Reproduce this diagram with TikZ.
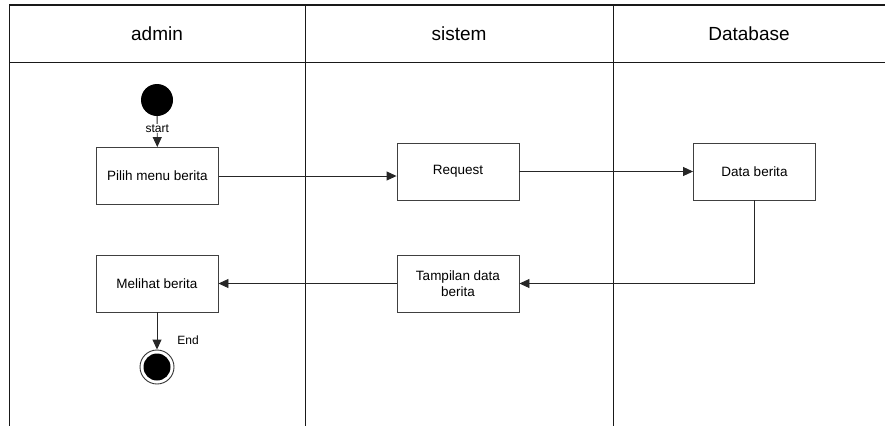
\documentclass[tikz,border=0pt]{standalone}
\usepackage{fontspec}
\setmainfont{Liberation Sans}
\usetikzlibrary{arrows.meta}
\begin{document}
\begin{tikzpicture}[x=1pt,y=-1pt,
  lane/.style={line width=1pt, draw=black!90},
  head/.style={font=\fontsize{19}{22}\selectfont},
  act/.style={draw=black!75, line width=0.9pt, minimum width=122pt, minimum height=57pt,
    font=\fontsize{13.5}{16}\selectfont, align=center, inner sep=0pt},
  flow/.style={line width=0.9pt, draw=black!85, -{Triangle[length=10pt,width=9pt]}},
  small/.style={font=\fontsize{12}{14}\selectfont}]
\useasboundingbox (0,0) rectangle (885,426);

% swimlane frame and headers
\draw[lane, line width=1.4pt] (885,5) -- (9,5);
\draw[lane] (9,5) -- (9,426);
\draw[lane] (9,62) -- (885,62);
\draw[lane] (305,5) -- (305,426);
\draw[lane] (613,5) -- (613,426);
\node[head] (hAdmin) at (157,34) {admin};
\node[head] (hSistem) at (459,34) {sistem};
\node[head] (hDb) at (749,34) {Database};

% initial and final states
\node[circle, fill=black, minimum size=32pt, inner sep=0pt] (start) at (157,100) {};
\node[circle, draw=black!80, line width=0.9pt, minimum size=34pt, inner sep=0pt] (end) at (157,367) {};
\node[circle, fill=black, minimum size=27pt, inner sep=0pt] (endCore) at (end) {};

% activities
\node[act] (pilih) at (157.5,176) {Pilih menu berita};
\node[act] (req) at (458,171.5) {Request};
\node[act] (data) at (754.5,171.5) {Data berita};
\node[act] (tampil) at (458,283.5) {Tampilan data\\berita};
\node[act] (lihat) at (157,283.5) {Melihat berita};

% transitions
\draw[flow] (start) -- node[small, fill=white, inner sep=1pt, pos=0.4] (startLbl) {start} (pilih);
\draw[flow] (pilih.east) -- (pilih.east -| req.west);
\draw[flow] (req) -- (data);
\draw[flow] (data.south) |- (tampil.east);
\draw[flow] (tampil) -- (lihat);
\draw[flow] (lihat) -- (end);
\node[small] (endLbl) at (188,340) {End};
\end{tikzpicture}
\end{document}
